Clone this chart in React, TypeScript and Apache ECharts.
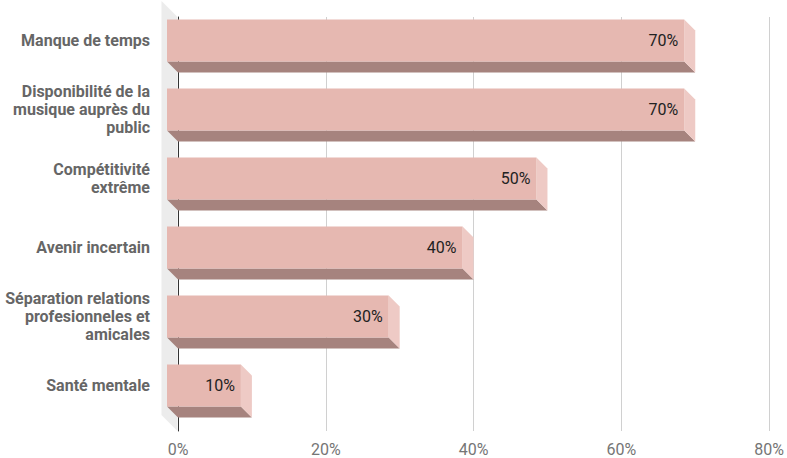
import React, { useEffect, useRef } from "react";
import * as echarts from "echarts";

const categories = [
  "Manque de temps",
  "Disponibilité de la\nmusique auprès du\npublic",
  "Compétitivité\nextrême",
  "Avenir incertain",
  "Séparation relations\nprofesionneles et\namicales",
  "Santé mentale",
];
const values = [70, 70, 50, 40, 30, 10];
const tickMax = 80;
const tickStep = 20;

const DEPTH = 11;
const WALL = 16;
const FRONT = "#e6b8b1";
const SIDE = "#eecac5";
const BOTTOM = "#a6837e";

export default function App() {
  const ref = useRef<HTMLDivElement>(null);
  useEffect(() => {
    const chart = echarts.init(ref.current!, null, { renderer: "svg" });
    const barData = values.map((v, i) => [v, i]);
    chart.setOption({
      animation: false,
      backgroundColor: "#ffffff",
      grid: [
        { left: 178, right: 17, top: 17, bottom: 27, containLabel: false },
        { left: 178, right: 17, top: 17 - DEPTH, bottom: 27 + DEPTH, containLabel: false },
      ],
      xAxis: [
        {
          type: "value",
          gridIndex: 0,
          min: 0,
          max: tickMax,
          interval: tickStep,
          axisLine: { show: false },
          axisTick: { show: false },
          axisLabel: {
            formatter: "{value}%",
            color: "#757575",
            fontSize: 16,
            fontFamily: "Roboto",
            margin: 10,
          },
          splitLine: { show: true, lineStyle: { color: "#d0d0d0", width: 1 } },
        },
        {
          type: "value",
          gridIndex: 1,
          min: 0,
          max: tickMax,
          show: false,
        },
      ],
      yAxis: [
        {
          type: "category",
          gridIndex: 0,
          data: categories,
          inverse: true,
          axisLine: { show: true, lineStyle: { color: "#333333", width: 1 } },
          axisTick: { show: false },
          splitLine: { show: false },
          axisLabel: { show: false },
        },
        {
          type: "category",
          gridIndex: 1,
          data: categories,
          inverse: true,
          axisLine: { show: false },
          axisTick: { show: false },
          splitLine: { show: false },
          axisLabel: {
            color: "#666666",
            fontSize: 16,
            fontWeight: "bold",
            fontFamily: "Roboto",
            lineHeight: 18,
            margin: 28,
            align: "right",
          },
        },
      ],
      series: [
        {
          type: "custom",
          z: 1,
          silent: true,
          xAxisIndex: 0,
          yAxisIndex: 0,
          data: [[0, 0]],
          encode: { x: 0, y: 1 },
          renderItem: (params: any, api: any) => {
            const cs = params.coordSys;
            const x = cs.x - 0.5;
            return {
              type: "polygon",
              shape: {
                points: [
                  [x, cs.y],
                  [x, cs.y + cs.height],
                  [x - WALL, cs.y + cs.height - WALL],
                  [x - WALL, cs.y - WALL],
                ],
              },
              style: { fill: "#ececec" },
            };
          },
        },
        {
          type: "custom",
          z: 3,
          xAxisIndex: 0,
          yAxisIndex: 0,
          data: barData,
          encode: { x: 0, y: 1 },
          renderItem: (params: any, api: any) => {
            const idx = api.value(1);
            const val = api.value(0);
            const start = api.coord([0, idx]);
            const end = api.coord([val, idx]);
            const band = api.size([0, 1])[1];
            const h = band * 0.61;
            const bx0 = start[0];
            const bx1 = end[0];
            const by0 = start[1] - h / 2;
            const by1 = start[1] + h / 2;
            const fx0 = bx0 - DEPTH;
            const fx1 = bx1 - DEPTH;
            const fy0 = by0 - DEPTH;
            const fy1 = by1 - DEPTH;
            return {
              type: "group",
              children: [
                {
                  type: "polygon",
                  shape: {
                    points: [
                      [fx0, fy1],
                      [fx1, fy1],
                      [bx1, by1],
                      [bx0, by1],
                    ],
                  },
                  style: { fill: BOTTOM },
                },
                {
                  type: "polygon",
                  shape: {
                    points: [
                      [fx1, fy0],
                      [bx1, by0],
                      [bx1, by1],
                      [fx1, fy1],
                    ],
                  },
                  style: { fill: SIDE },
                },
                {
                  type: "rect",
                  shape: { x: fx0, y: fy0, width: fx1 - fx0, height: fy1 - fy0 },
                  style: { fill: FRONT },
                },
                {
                  type: "text",
                  x: fx1 - 6,
                  y: (fy0 + fy1) / 2,
                  style: {
                    text: val + "%",
                    fill: "#222222",
                    fontSize: 16,
                    fontFamily: "Roboto",
                    align: "right",
                    verticalAlign: "middle",
                  },
                },
              ],
            };
          },
        },
      ],
    });
    return () => chart.dispose();
  }, []);
  return (
    <div
      ref={ref}
      style={{ position: "fixed", left: 0, top: 0, width: 787, height: 458 }}
    />
  );
}
